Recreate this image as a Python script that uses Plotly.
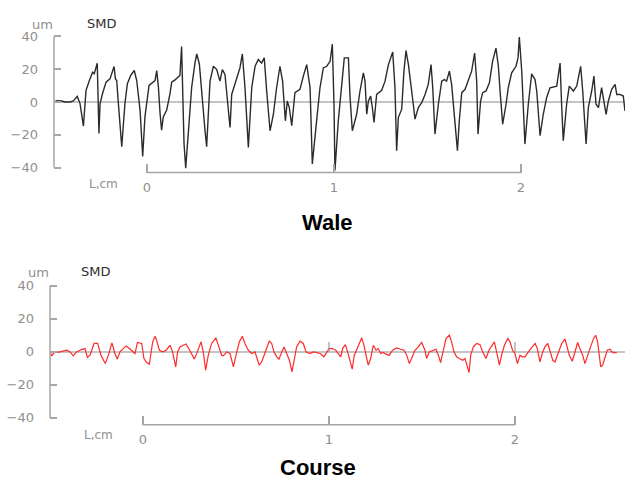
import plotly.graph_objects as go

# ---- Wale profile: length along sample (cm) and SMD deviation (um) ----
wale_L = [
    -0.497, -0.483, -0.456, -0.439, -0.412, -0.394, -0.373, -0.358, -0.340, -0.326,
    -0.308, -0.291, -0.282, -0.266, -0.257, -0.251, -0.237, -0.219, -0.198, -0.176,
    -0.169, -0.162, -0.153, -0.135, -0.118, -0.105, -0.087, -0.068, -0.055, -0.037,
    -0.023, -0.011, 0.011, 0.030, 0.043, 0.052, 0.061, 0.070, 0.078, 0.087,
    0.105, 0.123, 0.132, 0.150, 0.176, 0.185, 0.191, 0.198, 0.207, 0.221,
    0.239, 0.257, 0.266, 0.280, 0.292, 0.310, 0.319, 0.337, 0.355, 0.373,
    0.390, 0.403, 0.417, 0.435, 0.444, 0.453, 0.480, 0.497, 0.510, 0.524,
    0.542, 0.560, 0.578, 0.595, 0.613, 0.627, 0.640, 0.658, 0.676, 0.693,
    0.711, 0.725, 0.740, 0.750, 0.761, 0.774, 0.791, 0.818, 0.836, 0.854,
    0.872, 0.884, 0.907, 0.925, 0.943, 0.961, 0.979, 0.991, 1.000, 1.005,
    1.023, 1.041, 1.055, 1.077, 1.086, 1.098, 1.112, 1.121, 1.139, 1.157,
    1.166, 1.175, 1.184, 1.196, 1.205, 1.214, 1.228, 1.255, 1.273, 1.291,
    1.314, 1.326, 1.335, 1.344, 1.362, 1.374, 1.385, 1.398, 1.424, 1.433,
    1.451, 1.469, 1.487, 1.504, 1.519, 1.528, 1.540, 1.558, 1.576, 1.590,
    1.602, 1.617, 1.629, 1.647, 1.660, 1.670, 1.683, 1.701, 1.718, 1.736,
    1.752, 1.763, 1.770, 1.784, 1.795, 1.813, 1.831, 1.848, 1.866, 1.879,
    1.888, 1.902, 1.920, 1.932, 1.950, 1.973, 1.984, 1.991, 2.004, 2.021,
    2.039, 2.057, 2.075, 2.084, 2.102, 2.119, 2.137, 2.155, 2.191, 2.209,
    2.217, 2.226, 2.244, 2.258, 2.280, 2.298, 2.319, 2.330, 2.348, 2.360,
    2.378, 2.390, 2.401, 2.414, 2.431, 2.440, 2.455, 2.467, 2.485, 2.503,
    2.512, 2.529, 2.547, 2.556,
]
wale_smd = [
    0.0, 0.8, 0.6, 0.0, 0.0, 0.6, 3.4, -1.0, -14.7, 7.1,
    13.1, 18.2, 17.2, 23.6, -19.2, -1.0, 5.5, 12.1, 14.1, 21.6,
    14.1, 13.1, -1.0, -27.3, -1.0, 11.1, 16.2, 19.2, 13.1, -5.1,
    -33.3, -9.1, 10.1, 12.1, 13.1, 19.2, 9.1, -7.1, -17.2, -9.1,
    -5.1, 5.1, 12.1, 13.5, 16.2, 33.9, -1.0, -25.3, -40.4, -17.2,
    9.1, 24.2, 29.3, 23.2, 5.1, -17.2, -27.3, 12.7, 21.8, 19.8,
    12.7, 19.8, 16.8, -7.5, -15.6, 4.6, 14.7, 20.8, 29.3, 8.7,
    -27.7, 8.7, 21.8, 25.9, 23.8, 26.9, 6.7, -17.6, -7.5, 8.7,
    21.8, 12.7, -11.5, 0.6, -3.4, -14.5, 5.7, 7.7, 15.8, 22.8,
    8.7, -37.8, -11.5, 8.7, 20.8, 21.8, 24.8, 35.4, -1.4, -41.8,
    -11.5, 8.7, 26.9, 26.9, 2.6, -17.6, -10.5, -7.5, 6.7, 17.8,
    12.7, -7.5, 0.6, 3.6, -3.4, -12.5, 4.6, 7.1, 12.7, 22.8,
    30.5, 8.7, -29.7, -9.5, -4.4, 18.8, 31.3, 22.8, -1.4, -10.5,
    -3.4, -0.4, 4.6, 10.7, 22.8, 8.7, -19.6, -1.4, 12.7, 13.7,
    12.7, 18.8, 10.7, -11.5, -29.7, -11.5, 5.7, 7.7, 13.7, 18.8,
    29.9, 12.7, -19.6, 0.6, 5.7, 6.7, 11.7, 24.8, 32.9, 21.8,
    6.7, -13.5, -1.4, 8.7, 17.8, 21.8, 26.9, 39.6, 18.8, -25.7,
    -1.4, 17.2, 13.7, 6.7, -20.6, -7.5, 2.6, 8.7, 9.7, 23.8,
    -1.4, -23.6, -1.4, 9.7, 6.7, 9.7, 21.8, 6.7, -25.7, -3.4,
    6.7, 15.8, -1.4, -3.4, 8.7, 1.6, -7.5, 0.6, 7.7, 10.7,
    4.6, 4.6, 3.6, -5.5,
]

# ---- Course profile ----
course_L = [
    -0.500, -0.491, -0.478, -0.446, -0.410, -0.392, -0.375, -0.357, -0.330, -0.312,
    -0.299, -0.285, -0.263, -0.244, -0.226, -0.203, -0.186, -0.167, -0.151, -0.138,
    -0.124, -0.115, -0.091, -0.073, -0.056, -0.043, -0.030, -0.007, 0.005, 0.020,
    0.034, 0.052, 0.065, 0.073, 0.088, 0.106, 0.124, 0.145, 0.159, 0.176,
    0.186, 0.199, 0.217, 0.231, 0.246, 0.262, 0.276, 0.292, 0.312, 0.324,
    0.337, 0.351, 0.369, 0.392, 0.405, 0.423, 0.432, 0.450, 0.468, 0.486,
    0.500, 0.518, 0.534, 0.548, 0.566, 0.584, 0.602, 0.615, 0.625, 0.638,
    0.656, 0.679, 0.692, 0.704, 0.719, 0.731, 0.746, 0.758, 0.776, 0.787,
    0.801, 0.812, 0.826, 0.844, 0.862, 0.876, 0.898, 0.916, 0.934, 0.952,
    0.973, 0.987, 1.000, 1.018, 1.036, 1.050, 1.063, 1.073, 1.088, 1.100,
    1.113, 1.125, 1.136, 1.149, 1.163, 1.176, 1.188, 1.199, 1.211, 1.224,
    1.238, 1.253, 1.265, 1.278, 1.292, 1.306, 1.324, 1.342, 1.364, 1.385,
    1.403, 1.418, 1.432, 1.444, 1.462, 1.480, 1.498, 1.516, 1.525, 1.539,
    1.557, 1.575, 1.588, 1.600, 1.615, 1.629, 1.647, 1.659, 1.672, 1.686,
    1.701, 1.719, 1.731, 1.744, 1.753, 1.762, 1.776, 1.794, 1.812, 1.826,
    1.844, 1.860, 1.875, 1.889, 1.901, 1.916, 1.928, 1.943, 1.961, 1.973,
    1.987, 2.000, 2.013, 2.027, 2.039, 2.054, 2.072, 2.090, 2.108, 2.120,
    2.134, 2.149, 2.161, 2.176, 2.188, 2.203, 2.215, 2.233, 2.251, 2.269,
    2.281, 2.292, 2.308, 2.323, 2.337, 2.349, 2.364, 2.376, 2.389, 2.403,
    2.421, 2.434, 2.444, 2.453, 2.461, 2.471, 2.484, 2.496, 2.511, 2.520,
    2.532, 2.547,
]
course_smd = [
    0.0, -2.4, -0.4, 0.0, 1.0, 0.0, -2.4, 0.0, 1.4, 2.0,
    -3.4, -2.0, 5.1, 5.1, -2.0, -7.1, -2.0, 5.5, -1.0, -4.4,
    0.0, 1.0, 3.6, 2.0, 0.0, -1.0, 5.7, 5.1, -4.0, -6.5,
    -7.5, 6.1, 9.5, 7.1, 1.0, 0.0, 1.0, 4.0, 0.0, -9.1,
    0.0, 3.0, 4.0, 4.8, 2.0, -1.0, -4.4, 0.0, 6.1, 0.0,
    -11.1, -2.0, 5.1, 8.5, 4.0, -2.0, -2.4, 0.0, -1.0, -9.1,
    -2.0, 6.1, 9.5, 5.1, 1.0, -1.0, 0.0, -5.1, -8.1, -6.1,
    0.0, 6.5, 5.1, 0.0, -3.0, -4.4, 0.0, 3.0, -2.0, -5.1,
    -12.1, -6.1, 3.0, 6.5, 5.1, 0.0, -1.0, 0.0, -0.4, -1.0,
    -3.0, 0.0, 2.0, 2.0, 1.0, -1.0, -3.0, 2.0, 4.4, 0.0,
    -6.1, -10.5, -2.0, 2.0, 5.1, 8.5, 4.0, -2.0, -8.1, -4.0,
    4.0, 1.0, 2.0, -1.0, -0.4, -1.4, -2.0, 1.0, 2.4, 1.6,
    1.0, -2.0, -7.1, -4.0, 1.0, 3.0, 5.7, 1.0, -4.0, 0.0,
    1.0, 1.6, -2.0, -6.5, 1.0, 8.1, 10.1, 6.1, 0.0, -3.0,
    -4.0, -5.1, -4.0, -9.1, -12.5, -2.0, 3.0, 5.1, 4.4, 0.0,
    -4.0, 1.0, 4.0, 6.1, 0.0, -8.1, -2.0, 4.0, 8.1, 6.1,
    1.0, -1.0, -7.1, -2.0, -3.0, -3.0, 0.0, 2.4, 5.1, 2.0,
    -6.1, 0.0, 3.0, 5.1, 0.0, -5.1, -6.1, 0.0, 5.1, 7.7,
    2.0, -2.0, -5.7, 0.0, 5.7, 2.0, -2.0, -7.1, -2.0, 2.0,
    7.7, 10.1, 6.1, -4.0, -9.1, -8.1, -4.0, 1.0, 1.6, 0.0,
    -0.4, -0.4,
]

# ---- axis ticks ----
y_ticks = [-40, -20, 0, 20, 40]
x_ticks = [0, 1, 2]
x_tick_text = ["0", "1", "2"]

W, H = 625, 482
AXIS_GREY = "#a6a6a6"
TICK_FONT = dict(family="DejaVu Sans", size=13, color="#8f8f8f")


def px_x(p):
    return p / W


def px_y(p):
    return 1 - p / H


fig = go.Figure()
fig.add_trace(go.Scatter(x=wale_L, y=wale_smd, mode="lines",
                         line=dict(color="#2b2b2b", width=1.4),
                         xaxis="x", yaxis="y", showlegend=False))
fig.add_trace(go.Scatter(x=course_L, y=course_smd, mode="lines",
                         line=dict(color="#ff2a2a", width=1.2),
                         xaxis="x2", yaxis="y2", showlegend=False))

# panel geometry (pixels): left edge of y axis, plot top, x axis baseline
panels = [
    dict(ax="", left=54, top=28, bottom=170, xrange=[-0.4973, 2.5561], yrange=[-43.07, 42.35]),
    dict(ax="2", left=50, top=283, bottom=426, xrange=[-0.5, 2.5914], yrange=[-44.2, 41.2]),
]

layout = dict(
    width=W, height=H,
    margin=dict(l=0, r=0, t=0, b=0),
    paper_bgcolor="white", plot_bgcolor="white",
    showlegend=False,
)
shapes = []
for p in panels:
    a = p["ax"]
    layout["xaxis" + a] = dict(
        domain=[px_x(p["left"]), 1.0], range=p["xrange"],
        anchor="y" + a, showgrid=False, zeroline=False, showline=False,
        tickmode="array", tickvals=x_ticks, ticktext=x_tick_text,
        ticks="inside", ticklen=9, tickwidth=1.5, tickcolor=AXIS_GREY,
        tickfont=TICK_FONT, ticklabelstandoff=5,
    )
    layout["yaxis" + a] = dict(
        domain=[px_y(p["bottom"]), px_y(p["top"])], range=p["yrange"],
        anchor="x" + a, showgrid=False, showline=False,
        zeroline=True, zerolinecolor="#c4c4c4", zerolinewidth=2,
        tickmode="array", tickvals=y_ticks,
        ticks="inside", ticklen=7, tickwidth=1.5, tickcolor=AXIS_GREY,
        tickfont=TICK_FONT, ticklabelstandoff=15,
    )
    xref = "x" + a
    yref = "y" + a
    # vertical axis bar spanning the labelled range
    shapes.append(dict(type="line", xref=xref + " domain", yref=yref,
                       x0=0, x1=0, y0=min(y_ticks), y1=max(y_ticks),
                       line=dict(color=AXIS_GREY, width=1.5)))
    # length scale bar along the bottom
    shapes.append(dict(type="line", xref=xref, yref=yref + " domain",
                       x0=min(x_ticks), x1=max(x_ticks), y0=0, y1=0,
                       line=dict(color=AXIS_GREY, width=1.5)))

# short markers on the course baseline at each length tick
for t in x_ticks[1:]:
    shapes.append(dict(type="line", xref="x2", yref="y2",
                       x0=t, x1=t, y0=0, y1=6,
                       line=dict(color="#9a9a9a", width=1.2)))

layout["shapes"] = shapes

ann = []
small_grey = dict(family="DejaVu Sans", size=12, color="#8f8f8f")
unit_grey = dict(family="DejaVu Sans", size=13, color="#8f8f8f")
small_dark = dict(family="DejaVu Sans", size=13, color="#2e2e2e")
for (ux, uy, sx, sy, lx, ly) in [(42, 20, 101, 19, 103, 182), (38, 271, 96, 270, 98, 436)]:
    ann.append(dict(text="um", x=px_x(ux), y=px_y(uy), xref="paper", yref="paper",
                    showarrow=False, font=unit_grey, xanchor="center", yanchor="middle"))
    ann.append(dict(text="SMD", x=px_x(sx), y=px_y(sy), xref="paper", yref="paper",
                    showarrow=False, font=small_dark, xanchor="center", yanchor="middle"))
    ann.append(dict(text="L,cm", x=px_x(lx), y=px_y(ly), xref="paper", yref="paper",
                    showarrow=False, font=small_grey, xanchor="center", yanchor="middle"))

title_font = dict(family="Liberation Sans, Arial, sans-serif", size=22, color="#000000")
ann.append(dict(text="<b>Wale</b>", x=px_x(327), y=px_y(221), xref="paper", yref="paper",
                showarrow=False, font=title_font, xanchor="center", yanchor="middle"))
ann.append(dict(text="<b>Course</b>", x=px_x(318), y=px_y(469), xref="paper", yref="paper",
                showarrow=False, font=title_font, xanchor="center", yanchor="middle"))
layout["annotations"] = ann

fig.update_layout(**layout)
fig.write_html("out.html")
